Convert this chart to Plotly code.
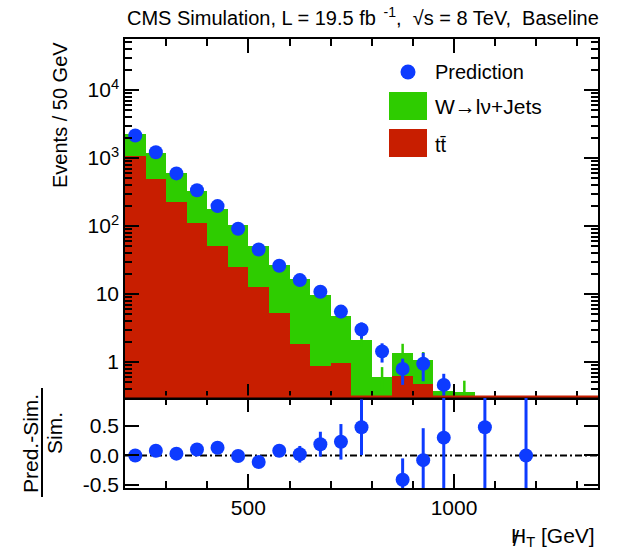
import plotly.graph_objects as go
import numpy as np

# ---------------- data ----------------
bin_centers = [225, 275, 325, 375, 425, 475, 525, 575, 625, 675,
               725, 775, 825, 875, 925, 975, 1025, 1075, 1125, 1175]
ttbar = [1060, 483, 225, 111, 50, 25, 12.6, 5.2, 1.86, 0.88,
         0.96, 0, 0, 0.63, 0.47, 0, 0, 0, 0, 0]
wjets = [1210, 692, 375, 213, 130, 77, 38.4, 21.6, 14.6, 8.8,
         3.76, 2.1, 0.61, 0.73, 0.61, 0.37, 0.36, 0, 0, 0]
sim_err = [30, 20, 12, 8, 6, 4, 2.5, 1.8, 1.4, 1.0,
           0.6, 0.4, 0.23, 0.49, 0.32, 0.1, 0.17, None, None, None]
prediction = [2140, 1215, 593, 336, 196, 91, 45, 26, 16, 10.8,
              5.5, 3.0, 1.43, 0.79, 0.94, 0.46, None, None, None, None]
prediction_err = [60, 40, 25, 18, 14, 8, 5, 3.5, 2.5, 2.0,
                  1.1, 0.8, 0.45, 0.33, 0.42, 0.21, None, None, None, None]
ratio = [0.0, 0.08, 0.03, 0.10, 0.13, -0.01, -0.11, 0.08, 0.02, 0.19,
         0.23, 0.475, None, -0.41, -0.08, 0.30, None, 0.475, None, 0.0]
ratio_err = [0.03, 0.03, 0.03, 0.04, 0.05, 0.05, 0.06, 0.09, 0.14, 0.21,
             0.30, 0.47, None, 0.36, 0.54, 1.0, None, 1.5, None, 1.5]

bin_width = 50
x_range = [200, 1350]
y_log_range = [-0.53, 4.75]
ratio_range = [-0.55, 0.97]

BLUE = "#0d3bff"
GREEN = "#2ecc00"
RED = "#c81e00"
FONT = "Liberation Sans, Arial, sans-serif"

tt = np.array(ttbar, dtype=float)
total = tt + np.array(wjets, dtype=float)
total_plot = [v if v > 0 else None for v in total]
tt_plot = [v if v > 0 else None for v in tt]

fig = go.Figure()

# stacked histograms (total drawn first, ttbar on top)
fig.add_trace(go.Bar(x=bin_centers, y=total_plot, width=bin_width,
                     marker=dict(color=GREEN, line=dict(width=0)),
                     name="W→lν+Jets", xaxis="x", yaxis="y", showlegend=False))
fig.add_trace(go.Bar(x=bin_centers, y=tt_plot, width=bin_width,
                     marker=dict(color=RED, line=dict(width=0)),
                     name="tt̄", xaxis="x", yaxis="y", showlegend=False))
# simulation stat errors (green)
fig.add_trace(go.Scatter(x=bin_centers, y=total_plot, mode="markers",
                         marker=dict(size=1, color="rgba(0,0,0,0)"),
                         error_y=dict(type="data", array=sim_err, color=GREEN,
                                      thickness=2.5, width=0),
                         xaxis="x", yaxis="y", showlegend=False, hoverinfo="skip"))
# prediction
fig.add_trace(go.Scatter(x=bin_centers, y=prediction, mode="markers",
                         marker=dict(size=14, color=BLUE),
                         error_y=dict(type="data", array=prediction_err, color=BLUE,
                                      thickness=3, width=0),
                         name="Prediction", xaxis="x", yaxis="y", showlegend=False))
# ratio panel
fig.add_trace(go.Scatter(x=bin_centers, y=ratio, mode="markers",
                         marker=dict(size=14, color=BLUE),
                         error_y=dict(type="data", array=ratio_err, color=BLUE,
                                      thickness=3, width=0),
                         xaxis="x2", yaxis="y2", showlegend=False))

L, R, T, B = 125, 23, 39, 61
W, H = 621, 549
plot_w = W - L - R
plot_h = H - T - B
split = 90 / plot_h

def px(xp):
    return (xp - L) / plot_w

def py(yp):
    return (H - B - yp) / plot_h

axis_common = dict(showline=True, linecolor="black", linewidth=1.5, mirror="allticks",
                   ticks="inside", tickcolor="black", tickwidth=1.5, showgrid=False,
                   zeroline=False, tickfont=dict(family=FONT, size=21, color="black"))

minor_log = [k * 10 ** e for e in range(-1, 5) for k in range(2, 10)]

fig.update_layout(
    width=W, height=H,
    margin=dict(l=L, r=R, t=T, b=B),
    paper_bgcolor="white", plot_bgcolor="white",
    barmode="overlay", bargap=0,
    font=dict(family=FONT, color="black"),
    xaxis=dict(domain=[0, 1], anchor="y", range=x_range, showticklabels=False,
               tickmode="array", tickvals=[500, 1000], ticklen=14,
               minor=dict(dtick=100, tick0=0, ticks="inside", ticklen=7,
                          tickcolor="black", tickwidth=1.5),
               **axis_common),
    yaxis=dict(domain=[split, 1], anchor="x", type="log", range=y_log_range,
               tickmode="array", tickvals=[1, 10, 100, 1000, 10000],
               ticktext=["1", "10", "10<sup>2</sup>", "10<sup>3</sup>", "10<sup>4</sup>"],
               ticklen=14,
               minor=dict(tickmode="array", tickvals=minor_log, ticks="inside", ticklen=7,
                          tickcolor="black", tickwidth=1.5),
               **axis_common),
    xaxis2=dict(domain=[0, 1], anchor="y2", range=x_range, showticklabels=True,
                tickmode="array", tickvals=[500, 1000], ticktext=["500", "1000"],
                ticklen=14,
                minor=dict(dtick=100, tick0=0, ticks="inside", ticklen=7,
                           tickcolor="black", tickwidth=1.5),
                **axis_common),
    yaxis2=dict(domain=[0, split], anchor="x2", range=ratio_range,
                tickmode="array", tickvals=[-0.5, 0, 0.5], ticktext=["-0.5", "0.0", "0.5"],
                ticklen=14, **axis_common),
)

shapes = []
# zero line in ratio panel
shapes.append(dict(type="line", xref="x2 domain", yref="y2", x0=0, x1=1, y0=0, y1=0,
                   line=dict(color="black", width=2, dash="7px,3px,2px,3px"), layer="below"))
# ttbar empty-bin line along the bottom of the upper panel
shapes.append(dict(type="line", xref="x domain", yref="y domain", x0=0, x1=1, y0=0.004, y1=0.004,
                   line=dict(color=RED, width=2), layer="above"))
# legend symbols
shapes.append(dict(type="circle", xref="paper", yref="paper",
                   x0=px(408 - 7.5), x1=px(408 + 7.5), y0=py(72 + 7.5), y1=py(72 - 7.5),
                   fillcolor=BLUE, line=dict(width=0)))
shapes.append(dict(type="rect", xref="paper", yref="paper",
                   x0=px(389), x1=px(427), y0=py(120), y1=py(92),
                   fillcolor=GREEN, line=dict(width=0)))
shapes.append(dict(type="rect", xref="paper", yref="paper",
                   x0=px(389), x1=px(427), y0=py(157), y1=py(129),
                   fillcolor=RED, line=dict(width=0)))
# fraction bar of the ratio-axis title
shapes.append(dict(type="line", xref="paper", yref="paper",
                   x0=px(42), x1=px(42), y0=py(388), y1=py(497),
                   line=dict(color="black", width=2)))
fig.update_layout(shapes=shapes)

ann = []
ann.append(dict(text="CMS Simulation, L = 19.5 fb<sup>  -1</sup>,  √s = 8 TeV,  Baseline",
                xref="paper", yref="paper", x=px(125), y=py(17), xanchor="left", yanchor="middle",
                showarrow=False, font=dict(family=FONT, size=20, color="black")))
ann.append(dict(text="Events / 50 GeV", textangle=-90, xref="paper", yref="paper",
                x=px(60), y=py(40), xanchor="center", yanchor="top", showarrow=False,
                font=dict(family=FONT, size=20, color="black")))
ann.append(dict(text="Pred.-Sim.", textangle=-90, xref="paper", yref="paper",
                x=px(30), y=py(444), xanchor="center", yanchor="middle", showarrow=False,
                font=dict(family=FONT, size=21, color="black")))
ann.append(dict(text="Sim.", textangle=-90, xref="paper", yref="paper",
                x=px(54), y=py(433), xanchor="center", yanchor="middle", showarrow=False,
                font=dict(family=FONT, size=21, color="black")))
ann.append(dict(text="H<sub>T</sub> [GeV]", xref="paper", yref="paper",
                x=px(597), y=py(537), xanchor="right", yanchor="middle", showarrow=False,
                font=dict(family=FONT, size=21, color="black")))
ann.append(dict(text="/", xref="paper", yref="paper",
                x=px(516), y=py(538), xanchor="center", yanchor="middle", showarrow=False,
                font=dict(family=FONT, size=22, color="black")))
# legend texts
ann.append(dict(text="Prediction", xref="paper", yref="paper", x=px(433), y=py(72),
                xanchor="left", yanchor="middle", showarrow=False,
                font=dict(family=FONT, size=20, color="black")))
ann.append(dict(text="W→lν+Jets", xref="paper", yref="paper", x=px(433), y=py(106),
                xanchor="left", yanchor="middle", showarrow=False,
                font=dict(family=FONT, size=21, color="black")))
ann.append(dict(text="tt\u0304", xref="paper", yref="paper", x=px(433), y=py(145),
                xanchor="left", yanchor="middle", showarrow=False,
                font=dict(family=FONT, size=20, color="black")))
fig.update_layout(annotations=ann)

fig.write_html("out.html")
